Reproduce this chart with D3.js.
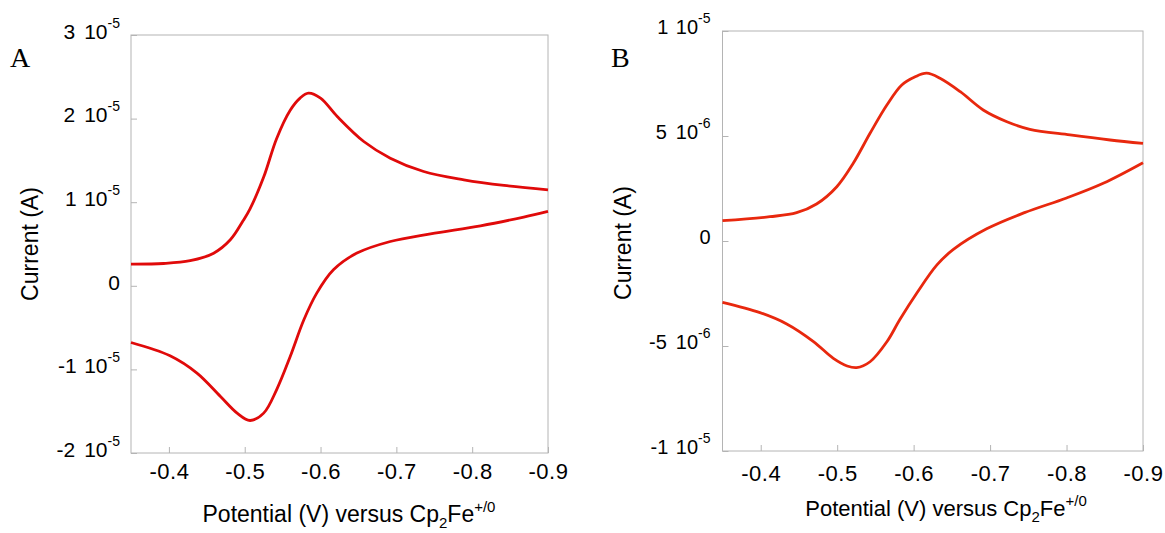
<!DOCTYPE html>
<html>
<head>
<meta charset="utf-8">
<script src="https://cdn.jsdelivr.net/npm/d3@7"></script>
<style>
    html, body { margin: 0; padding: 0; background: #fff; }
    svg { display: block; font-family: Arial, "Liberation Sans", sans-serif; }
</style>
</head>
<body>
<div id="chart"></div>
<script>
// Panel A - forward sweep (upper branch), in 1e-5 A
const potentialFwdA = [-0.35, -0.393, -0.428, -0.459, -0.481, -0.498, -0.507, -0.525, -0.542, -0.560, -0.573, -0.584, -0.600, -0.622, -0.657, -0.692, -0.736, -0.789, -0.842, -0.90];
const currentFwdA = [0.26, 0.267, 0.30, 0.39, 0.55, 0.78, 0.92, 1.30, 1.76, 2.10, 2.245, 2.305, 2.245, 2.025, 1.726, 1.527, 1.367, 1.268, 1.20, 1.148];
// Panel A - return sweep (lower branch), in 1e-5 A
const potentialRevA = [-0.35, -0.4015, -0.437, -0.468, -0.490, -0.507, -0.525, -0.542, -0.560, -0.578, -0.595, -0.617, -0.648, -0.692, -0.745, -0.811, -0.868, -0.90];
const currentRevA = [-0.678, -0.837, -1.044, -1.324, -1.523, -1.611, -1.523, -1.244, -0.846, -0.407, -0.088, 0.191, 0.391, 0.53, 0.622, 0.718, 0.822, 0.889];

// Panel B - forward sweep (upper branch), in 1e-6 A
const potentialFwdB = [-0.35, -0.412, -0.447, -0.473, -0.4995, -0.521, -0.543, -0.565, -0.5845, -0.602, -0.617, -0.6345, -0.661, -0.691, -0.722, -0.752, -0.8045, -0.857, -0.90];
const currentFwdB = [0.967, 1.157, 1.348, 1.762, 2.586, 3.70, 5.13, 6.476, 7.43, 7.82, 7.99, 7.75, 7.11, 6.24, 5.68, 5.32, 5.05, 4.81, 4.65];
// Panel B - return sweep (lower branch), in 1e-6 A
const potentialRevB = [-0.35, -0.399, -0.434, -0.469, -0.495, -0.513, -0.5255, -0.543, -0.565, -0.582, -0.604, -0.6305, -0.652, -0.6955, -0.745, -0.80, -0.848, -0.90];
const currentRevB = [-2.92, -3.41, -3.95, -4.79, -5.59, -5.95, -6.03, -5.75, -4.80, -3.74, -2.49, -1.14, -0.40, 0.58, 1.35, 2.05, 2.75, 3.73];

// Axes
const xTicks = [-0.4, -0.5, -0.6, -0.7, -0.8, -0.9];
const yTicksA = [-2e-5, -1e-5, 0, 1e-5, 2e-5, 3e-5];
const yMantissaA = ['-2', '-1', '0', '1', '2', '3'];
const yExponentA = ['-5', '-5', '', '-5', '-5', '-5'];
const yTicksB = [-1e-5, -5e-6, 0, 5e-6, 1e-5];
const yMantissaB = ['-1', '-5', '0', '5', '1'];
const yExponentB = ['-5', '-6', '', '-6', '-5'];

const width = 1165;
const height = 533;

const svg = d3.select('#chart')
    .append('svg')
    .attr('width', width)
    .attr('height', height);

function drawPanel(p) {
    const x = d3.scaleLinear().domain([-0.35, -0.9]).range([p.left, p.right]);
    const y = d3.scaleLinear().domain(p.yDomain).range([p.bottom, p.top]);
    const g = svg.append('g');

    // frame
    g.append('rect')
        .attr('x', p.left)
        .attr('y', p.top)
        .attr('width', p.right - p.left)
        .attr('height', p.bottom - p.top)
        .attr('fill', 'none')
        .attr('stroke', '#b4b4b4')
        .attr('stroke-width', 1);

    // inward ticks
    const xAxis = g.append('g')
        .attr('transform', `translate(0,${p.bottom})`)
        .call(d3.axisBottom(x).tickValues(xTicks).tickSize(-6).tickPadding(p.xPad)
            .tickFormat(d => d.toFixed(1)));
    xAxis.select('.domain').remove();
    xAxis.selectAll('line').attr('stroke', '#b4b4b4');
    xAxis.selectAll('text')
        .attr('fill', '#000')
        .style('font-size', '22px')
        .style('letter-spacing', '0.5px')
        .style('font-family', 'Arial, "Liberation Sans", sans-serif');

    const yAxis = g.append('g')
        .attr('transform', `translate(${p.left},0)`)
        .call(d3.axisLeft(y).tickValues(p.yTicks).tickSize(-6).tickFormat(''));
    yAxis.select('.domain').remove();
    yAxis.selectAll('line').attr('stroke', '#b4b4b4');

    // y labels like "2 10^-5"
    const labels = g.append('g')
        .selectAll('text')
        .data(p.yTicks)
        .join('text')
        .attr('x', p.left - p.yLabelGap)
        .attr('y', d => y(d) + p.yLabelDy)
        .attr('text-anchor', 'end')
        .attr('fill', '#000')
        .style('font-size', p.yFont + 'px');
    labels.append('tspan').text(d => p.mantissa[p.yTicks.indexOf(d)]);
    const withExp = labels.filter(d => p.exponent[p.yTicks.indexOf(d)] !== '');
    withExp.append('tspan').attr('dx', 9).text('10');
    withExp.append('tspan')
        .attr('dy', -11)
        .style('font-size', '14px')
        .text(d => p.exponent[p.yTicks.indexOf(d)]);

    // curves
    const line = d3.line()
        .x(d => x(d[0]))
        .y(d => y(d[1] * p.unit))
        .curve(d3.curveCatmullRom.alpha(0.5));

    p.series.forEach(s => {
        g.append('path')
            .datum(d3.zip(s.e, s.i))
            .attr('fill', 'none')
            .attr('stroke', p.colour)
            .attr('stroke-width', 2.8)
            .attr('stroke-linejoin', 'round')
            .attr('d', line);
    });

    // axis titles
    const xt = g.append('text')
        .attr('x', p.xTitleX)
        .attr('y', p.xTitleY)
        .attr('text-anchor', 'middle')
        .attr('fill', '#000')
        .style('font-size', p.titleFont + 'px');
    xt.append('tspan').text('Potential (V) versus Cp');
    xt.append('tspan').attr('dy', 6).style('font-size', '15px').text('2');
    xt.append('tspan').attr('dy', -6).text('Fe');
    xt.append('tspan').attr('dy', -10).style('font-size', '15px').text('+/0');

    g.append('text')
        .attr('transform', `translate(${p.yTitleX},${p.yTitleY}) rotate(-90)`)
        .attr('text-anchor', 'middle')
        .attr('fill', '#000')
        .style('font-size', '23px')
        .text('Current (A)');

    g.append('text')
        .attr('x', p.letterX)
        .attr('y', 67)
        .attr('fill', '#000')
        .style('font-family', '"Times New Roman", "Liberation Serif", serif')
        .style('font-size', '28px')
        .text(p.letter);
}

drawPanel({
    letter: 'A', letterX: 10,
    left: 131, right: 548, top: 35, bottom: 453,
    yDomain: [-2e-5, 3e-5], yTicks: yTicksA, mantissa: yMantissaA, exponent: yExponentA,
    unit: 1e-5, colour: '#e00a0a',
    xPad: 10, yLabelGap: 11, yLabelDy: 3.7, yFont: 21, titleFont: 23,
    xTitleX: 349, xTitleY: 521.5, yTitleX: 37.5, yTitleY: 244,
    series: [{ e: potentialFwdA, i: currentFwdA }, { e: potentialRevA, i: currentRevA }]
});

drawPanel({
    letter: 'B', letterX: 611,
    left: 722.5, right: 1143, top: 31, bottom: 451,
    yDomain: [-1e-5, 1e-5], yTicks: yTicksB, mantissa: yMantissaB, exponent: yExponentB,
    unit: 1e-6, colour: '#e8280e',
    xPad: 14, yLabelGap: 12, yLabelDy: 2.8, yFont: 20, titleFont: 22,
    xTitleX: 946, xTitleY: 516, yTitleX: 631, yTitleY: 243,
    series: [{ e: potentialFwdB, i: currentFwdB }, { e: potentialRevB, i: currentRevB }]
});
</script>
</body>
</html>
